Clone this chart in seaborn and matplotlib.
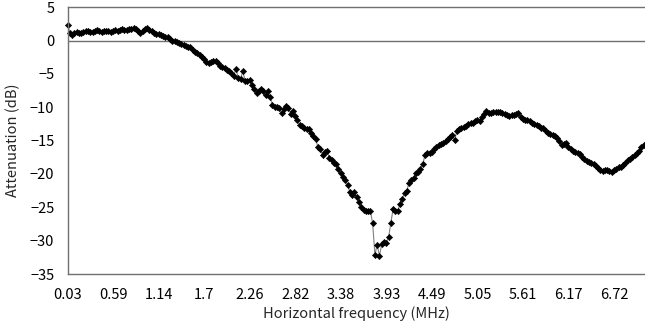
import numpy as np
import pandas as pd
import seaborn as sns
import matplotlib
matplotlib.use("Agg")
import matplotlib.pyplot as plt

# ==============================================================
# DATA
# ==============================================================
freq_step = 0.0279  # MHz between samples
n_points = 255

attenuation_db = [
    2.4, 1.2, 0.9, 1.1, 1.3, 1.2, 1.1, 1.3, 1.4, 1.5,
    1.3, 1.3, 1.5, 1.6, 1.4, 1.35, 1.45, 1.5, 1.4, 1.35,
    1.45, 1.6, 1.5, 1.65, 1.7, 1.6, 1.65, 1.7, 1.75, 1.85,
    1.7, 1.5, 1.2, 1.5, 1.8, 1.85, 1.6, 1.45, 1.2, 1.05,
    1.0, 0.85, 0.7, 0.6, 0.5, 0.25, 0.0, -0.1, -0.15, -0.4,
    -0.45, -0.6, -0.75, -0.9, -0.95, -1.4, -1.7, -1.9, -2.1, -2.4,
    -2.8, -3.15, -3.4, -3.2, -3.0, -3.1, -3.3, -3.75, -3.95, -4.1,
    -4.4, -4.6, -4.9, -5.3, -4.2, -5.6, -5.7, -4.6, -6.0, -6.1,
    -5.9, -6.6, -7.3, -7.8, -7.6, -7.2, -7.5, -8.15, -7.6, -8.5,
    -9.6, -9.9, -9.9, -10.05, -10.9, -10.2, -9.75, -10.05, -11.05, -10.55,
    -11.3, -11.95, -12.7, -12.8, -13.05, -13.2, -13.3, -13.8, -14.3, -14.8,
    -16.0, -16.3, -17.2, -16.7, -16.55, -17.6, -17.9, -18.3, -18.5, -19.2,
    -19.9, -20.4, -20.9, -21.6, -22.7, -23.2, -22.7, -23.4, -24.2, -24.9,
    -25.4, -25.6, -25.6, -25.5, -27.4, -32.1, -30.6, -32.3, -30.5, -30.2,
    -30.3, -29.5, -27.3, -25.2, -25.5, -25.6, -24.5, -23.7, -22.9, -22.5,
    -21.3, -20.9, -20.6, -19.9, -19.65, -19.2, -18.5, -17.2, -16.9, -16.8,
    -16.65, -16.3, -16.0, -15.7, -15.5, -15.4, -15.0, -14.7, -14.4, -14.15,
    -14.9, -13.6, -13.3, -13.15, -13.0, -12.8, -12.5, -12.4, -12.4, -12.0,
    -11.9, -12.05, -11.4, -11.0, -10.55, -10.8, -10.9, -10.7, -10.65, -10.7,
    -10.75, -10.9, -11.05, -11.15, -11.25, -11.2, -11.15, -11.0, -10.9, -11.5,
    -11.7, -11.85, -11.95, -12.1, -12.3, -12.5, -12.65, -12.85, -13.05, -13.15,
    -13.5, -13.8, -13.95, -14.1, -14.3, -14.6, -15.0, -15.65, -15.45, -15.3,
    -15.9, -16.2, -16.5, -16.65, -16.85, -17.0, -17.4, -17.8, -18.0, -18.15,
    -18.35, -18.5, -18.85, -19.15, -19.4, -19.5, -19.45, -19.4, -19.55, -19.65,
    -19.4, -19.3, -19.0, -18.9, -18.65, -18.3, -17.9, -17.7, -17.45, -17.2,
    -16.9, -16.5, -15.9, -15.65, -15.5,
]

x_tick_labels = ["0.03", "0.59", "1.14", "1.7", "2.26", "2.82", "3.38",
                 "3.93", "4.49", "5.05", "5.61", "6.17", "6.72"]
y_ticks = [5, 0, -5, -10, -15, -20, -25, -30, -35]

freqs = [round(freq_step * (k + 1), 4) for k in range(n_points)]
df = pd.DataFrame({"freq": freqs, "att": attenuation_db})

# ==============================================================
# PLOT
# ==============================================================
sns.set_style("white")
plt.rcParams["font.family"] = ["Noto Sans CJK JP", "DejaVu Sans"]
plt.rcParams["axes.unicode_minus"] = True

axis_gray = "#707070"
fs = 10.5

fig = plt.figure(figsize=(6.45, 3.35), dpi=100)
ax = fig.add_axes([67.5 / 645, 1 - 274 / 335, 578.4 / 645, (274 - 7.3) / 335])

sns.lineplot(data=df, x="freq", y="att", ax=ax, color="#808080", linewidth=0.8,
             marker="D", markersize=3.2, markerfacecolor="black",
             markeredgecolor="black", markeredgewidth=0.4, clip_on=False)

ax.axhline(0, color=axis_gray, linewidth=1.0, zorder=1)

ax.set_xlim(freqs[0], freqs[-1])
ax.set_ylim(-35, 5)

ax.set_xticks(freqs[::20])
ax.set_xticklabels(x_tick_labels)
ax.set_xticks(freqs[::2], minor=True)
ax.set_yticks(y_ticks)

for side in ["left", "bottom", "top"]:
    ax.spines[side].set_color(axis_gray)
    ax.spines[side].set_linewidth(1.0)
ax.spines["right"].set_visible(False)

ax.tick_params(axis="x", which="both", direction="in", length=2.5, width=0.8,
               color=axis_gray, pad=10, labelsize=fs, labelcolor="black")
ax.tick_params(axis="y", direction="out", length=2.5, width=0.8,
               color=axis_gray, pad=7, labelsize=fs, labelcolor="black")

ax.set_xlabel("Horizontal frequency (MHz)", fontsize=fs, labelpad=3)
ax.set_ylabel("Attenuation (dB)", fontsize=fs, labelpad=7)

fig.savefig("out.png", dpi=100)
